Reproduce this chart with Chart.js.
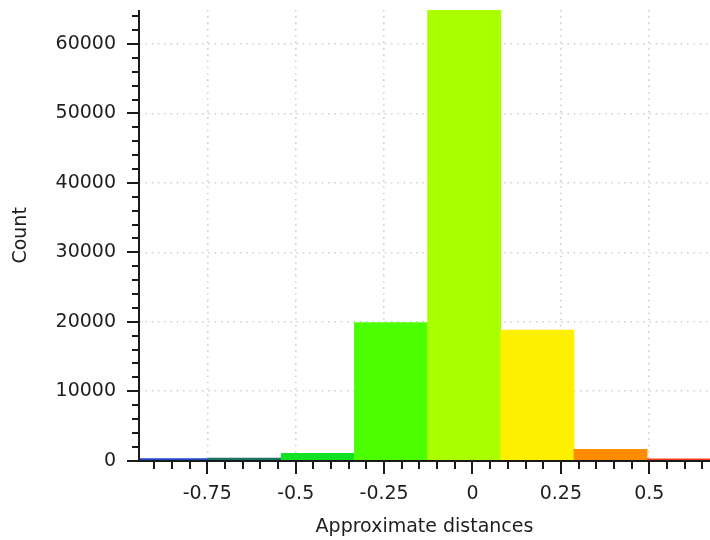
<!DOCTYPE html>
<html>
<head>
<meta charset="utf-8">
<script src="https://cdn.jsdelivr.net/npm/chart.js@4.4.1/dist/chart.umd.min.js"></script>
<style>
html,body{margin:0;padding:0;background:#ffffff;overflow:hidden;}
canvas{display:block;}
</style>
</head>
<body>
<canvas id="c" width="710" height="540"></canvas>
<script>
// ---- data ----
const binCenters = [-0.8515, -0.6445, -0.4375, -0.2305, -0.0235, 0.1835, 0.3905, 0.5975];
const counts     = [300, 380, 1060, 19900, 64900, 18800, 1640, 280];
const barColors  = ['#2446cc', '#1c7262', '#14e024', '#4cff00', '#aaff00', '#fff000', '#ff8c00', '#ff3c1c'];

const xRange = [-0.9432, 0.6717];
const yRange = [0, 64900];

const xMajorTicks  = [-0.75, -0.5, -0.25, 0, 0.25, 0.5];
const xTickLabels  = ['-0.75', '-0.5', '-0.25', '0', '0.25', '0.5'];
const xMinorTicks  = [-0.9, -0.85, -0.8, -0.7, -0.65, -0.6, -0.55, -0.45, -0.4, -0.35, -0.3,
                      -0.2, -0.15, -0.1, -0.05, 0.05, 0.1, 0.15, 0.2, 0.3, 0.35, 0.4, 0.45,
                      0.55, 0.6, 0.65];
const yMajorTicks  = [0, 10000, 20000, 30000, 40000, 50000, 60000];
const yTickLabels  = ['0', '10000', '20000', '30000', '40000', '50000', '60000'];
const yMinorTicks  = [2000, 4000, 6000, 8000, 12000, 14000, 16000, 18000, 22000, 24000, 26000, 28000,
                      32000, 34000, 36000, 38000, 42000, 44000, 46000, 48000, 52000, 54000, 56000, 58000,
                      62000, 64000];

const xTitle = 'Approximate distances';
const yTitle = 'Count';

const FONT = {family: '"DejaVu Sans", Verdana, sans-serif', size: 19, lineHeight: 1.2};
const TEXT = '#1e1e1e';

const axesPlugin = {
  id: 'axesTicks',
  afterDatasetsDraw(chart) {
    const {ctx, chartArea: a, scales: {x, y}} = chart;
    const L = Math.round(a.left), B = Math.round(a.bottom);
    ctx.save();
    ctx.strokeStyle = '#1a1a1a';
    ctx.lineWidth = 2;
    ctx.beginPath();
    ctx.moveTo(L, a.top); ctx.lineTo(L, B + 1);
    ctx.moveTo(L - 1, B); ctx.lineTo(a.right, B);
    xMajorTicks.forEach(v => { const p = Math.round(x.getPixelForValue(v)); ctx.moveTo(p, B); ctx.lineTo(p, B + 13); });
    xMinorTicks.forEach(v => { const p = Math.round(x.getPixelForValue(v)); ctx.moveTo(p, B); ctx.lineTo(p, B + 8); });
    yMajorTicks.forEach(v => { const p = Math.round(y.getPixelForValue(v)); ctx.moveTo(L, p); ctx.lineTo(L - 12, p); });
    yMinorTicks.forEach(v => { const p = Math.round(y.getPixelForValue(v)); ctx.moveTo(L, p); ctx.lineTo(L - 7, p); });
    ctx.stroke();
    ctx.restore();
  }
};

new Chart(document.getElementById('c'), {
  type: 'bar',
  data: {
    datasets: [{
      data: binCenters.map((c, i) => ({x: c, y: counts[i]})),
      backgroundColor: barColors,
      borderWidth: 0,
      barPercentage: 1,
      categoryPercentage: 1
    }]
  },
  options: {
    responsive: false,
    animation: false,
    devicePixelRatio: 1,
    layout: {padding: {top: 10, right: 0, bottom: 0, left: 0}},
    plugins: {legend: {display: false}, tooltip: {enabled: false}},
    scales: {
      x: {
        type: 'linear',
        min: xRange[0], max: xRange[1],
        offset: false,
        afterBuildTicks: s => { s.ticks = xMajorTicks.map(v => ({value: v})); },
        afterFit: s => { s.height = 79.3; s.paddingLeft = 0; s.paddingRight = 0; },
        grid: {offset: false, drawTicks: false, color: '#d0d0d0', lineWidth: 1.6},
        border: {display: false, dash: [1.6, 4.7]},
        ticks: {
          autoSkip: false, maxRotation: 0, padding: 22, color: TEXT, font: FONT,
          callback: (v, i) => xTickLabels[xMajorTicks.indexOf(v)] ?? ''
        },
        title: {display: true, text: xTitle, color: TEXT, font: FONT, padding: {top: 0, bottom: 2}}
      },
      y: {
        type: 'linear',
        min: yRange[0], max: yRange[1],
        afterBuildTicks: s => { s.ticks = yMajorTicks.map(v => ({value: v})); },
        afterFit: s => { s.width = 139; s.paddingTop = 0; s.paddingBottom = 0; },
        grid: {drawTicks: false, color: '#d0d0d0', lineWidth: 1.6},
        border: {display: false, dash: [1.6, 4.7]},
        ticks: {
          autoSkip: false, padding: 23, color: TEXT, font: FONT,
          callback: (v) => yTickLabels[yMajorTicks.indexOf(v)] ?? ''
        },
        title: {display: true, text: yTitle, color: TEXT, font: FONT, padding: {top: 10, bottom: 0}}
      }
    }
  },
  plugins: [axesPlugin]
});
</script>
</body>
</html>
